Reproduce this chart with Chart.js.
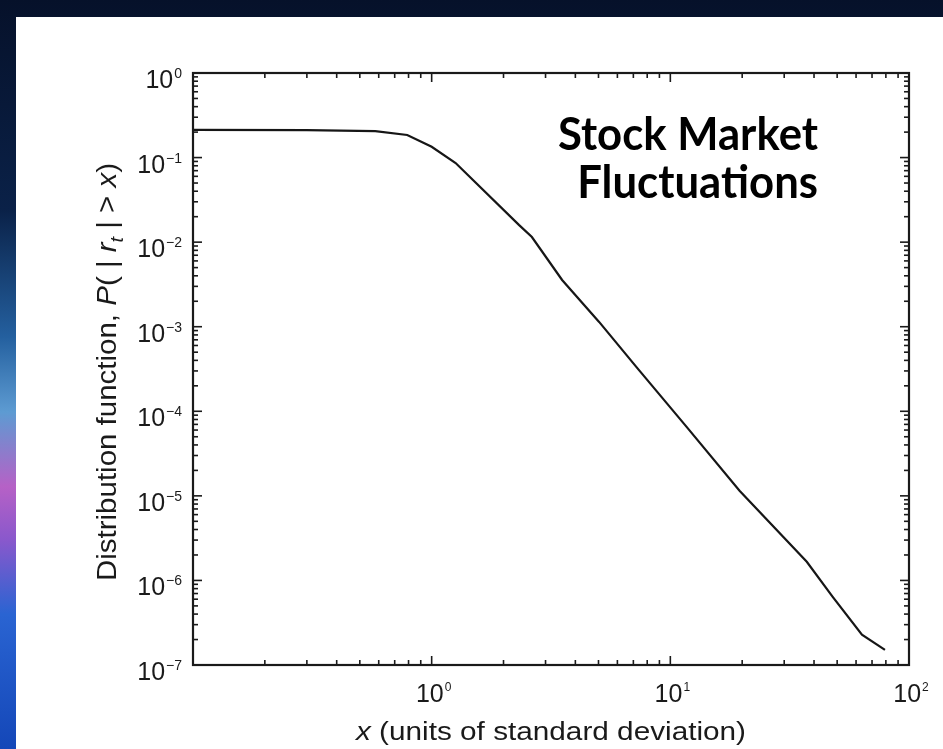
<!DOCTYPE html>
<html>
<head>
<meta charset="utf-8">
<script src="https://cdn.jsdelivr.net/npm/chart.js@4.4.1/dist/chart.umd.min.js"></script>
<style>
  html, body { margin: 0; padding: 0; width: 943px; height: 749px; overflow: hidden; }
  #backdrop {
    position: absolute; left: 0; top: 0; width: 943px; height: 749px;
    background: linear-gradient(to bottom, #06112a 0%, #0a2148 28%, #24609f 45%, #5d9bd2 55%, #b661c6 65%, #8a58cc 72%, #2a64d2 82%, #1447b8 100%);
  }
  #panel { position: absolute; left: 16px; top: 17px; right: 0; bottom: 0; background: #ffffff; }
  canvas { position: absolute; left: 0; top: 0; }
</style>
</head>
<body>
<div id="backdrop"></div>
<div id="panel"></div>
<canvas id="chart" width="943" height="749"></canvas>
<script>
// Cumulative distribution of normalized absolute returns, P(|r_t| > x)
const devX = [0.1, 0.3, 0.58, 0.79, 1.0, 1.26, 2.32, 2.63, 3.52, 5.03, 7.2, 11.7, 19.5, 37.3, 47.9, 63.5, 79.3];
const cumProb = [0.213, 0.211, 0.205, 0.185, 0.134, 0.0863, 0.016, 0.0115, 0.00357, 0.00114, 0.000335,
                 0.0000654, 0.0000115, 0.00000166, 0.00000064, 0.000000228, 0.000000151];

// Axis decades (powers of ten) and the minor multipliers inside each decade
const xDecadeExps = [-1, 0, 1, 2];
const yDecadeExps = [0, -1, -2, -3, -4, -5, -6, -7];
const xLabelExps = [0, 1, 2];
const yLabelExps = [0, -1, -2, -3, -4, -5, -6, -7];
const minorSteps = [2, 3, 4, 5, 6, 7, 8, 9];

// Text
const xTitleParts = [{ t: 'x', it: true }, { t: ' (units of standard deviation)' }];
const yTitleParts = [
  { t: 'Distribution function, ' }, { t: 'P', it: true }, { t: '( | ' },
  { t: 'r', it: true }, { t: 't', it: true, sub: true }, { t: ' | > ' },
  { t: 'x', it: true }, { t: ')' }
];
const noteLines = ['Stock Market', 'Fluctuations'];

const SANS = '"Liberation Sans", Arial, Helvetica, sans-serif';
const INK = '#1a1a1a';

function sansFont(size, italic) {
  return (italic ? 'italic ' : '') + size + 'px ' + SANS;
}

// "10" with a raised exponent
function drawPower(ctx, exp, anchorX, baseline, align, size, supSize, supRise) {
  const sup = exp < 0 ? '\u2212' + Math.abs(exp) : String(exp);
  ctx.font = sansFont(size);
  const wBase = ctx.measureText('10').width;
  ctx.font = sansFont(supSize);
  const wSup = ctx.measureText(sup).width;
  const total = wBase + 1 + wSup;
  const x0 = align === 'right' ? anchorX - total : anchorX - total / 2;
  ctx.textAlign = 'left';
  ctx.textBaseline = 'alphabetic';
  ctx.font = sansFont(size);
  ctx.fillText('10', x0, baseline);
  ctx.font = sansFont(supSize);
  ctx.fillText(sup, x0 + wBase + 1, baseline - supRise);
}

// Mixed regular / italic / subscript run
function measureParts(ctx, parts, size) {
  let w = 0;
  parts.forEach(p => {
    ctx.font = sansFont(p.sub ? Math.round(size * 0.65) : size, p.it);
    w += ctx.measureText(p.t).width;
  });
  return w;
}
function drawParts(ctx, parts, size, startX, baseline) {
  let x = startX;
  ctx.textAlign = 'left';
  ctx.textBaseline = 'alphabetic';
  parts.forEach(p => {
    const s = p.sub ? Math.round(size * 0.65) : size;
    ctx.font = sansFont(s, p.it);
    ctx.fillText(p.t, x, baseline + (p.sub ? size * 0.25 : 0));
    x += ctx.measureText(p.t).width;
  });
}

const framePlugin = {
  id: 'logFrame',
  afterDraw(chart) {
    const ctx = chart.ctx;
    const xs = chart.scales.x, ys = chart.scales.y;
    const a = chart.chartArea;
    ctx.save();
    ctx.strokeStyle = INK;
    ctx.fillStyle = INK;

    // inward ticks on all four sides
    ctx.lineWidth = 1.6;
    const tick = (x1, y1, x2, y2) => { ctx.beginPath(); ctx.moveTo(x1, y1); ctx.lineTo(x2, y2); ctx.stroke(); };
    xDecadeExps.forEach(e => {
      const major = Math.pow(10, e);
      const px = xs.getPixelForValue(major);
      if (px > a.left + 1 && px < a.right - 1) {
        tick(px, a.bottom, px, a.bottom - 9);
        tick(px, a.top, px, a.top + 9);
      }
      minorSteps.forEach(k => {
        const v = k * major;
        if (v <= xs.min || v >= xs.max) return;
        const mx = xs.getPixelForValue(v);
        tick(mx, a.bottom, mx, a.bottom - 5);
        tick(mx, a.top, mx, a.top + 5);
      });
    });
    yDecadeExps.forEach(e => {
      const major = Math.pow(10, e);
      const py = ys.getPixelForValue(major);
      if (py > a.top + 1 && py < a.bottom - 1) {
        tick(a.left, py, a.left + 9, py);
        tick(a.right, py, a.right - 9, py);
      }
      minorSteps.forEach(k => {
        const v = k * major;
        if (v <= ys.min || v >= ys.max) return;
        const my = ys.getPixelForValue(v);
        tick(a.left, my, a.left + 5, my);
        tick(a.right, my, a.right - 5, my);
      });
    });

    // frame
    ctx.lineWidth = 2.2;
    ctx.strokeRect(a.left, a.top, a.right - a.left, a.bottom - a.top);

    // tick labels
    yLabelExps.forEach(e => {
      const py = ys.getPixelForValue(Math.pow(10, e));
      drawPower(ctx, e, a.left - 11, py + 15, 'right', 25, 14, 10);
    });
    xLabelExps.forEach(e => {
      const px = xs.getPixelForValue(Math.pow(10, e));
      drawPower(ctx, e, px + 2, a.bottom + 37, 'center', 25, 12, 11);
    });

    // x axis title
    const xSize = 26;
    const xW = measureParts(ctx, xTitleParts, xSize);
    ctx.save();
    ctx.translate((a.left + a.right) / 2, a.bottom + 75);
    ctx.scale(390 / xW, 1);
    drawParts(ctx, xTitleParts, xSize, -xW / 2, 0);
    ctx.restore();

    // y axis title (rotated, condensed)
    const ySize = 27;
    const yW = measureParts(ctx, yTitleParts, ySize);
    ctx.save();
    ctx.translate(a.left - 77, (a.top + a.bottom) / 2 + 3);
    ctx.rotate(-Math.PI / 2);
    ctx.scale(418 / yW, 1);
    drawParts(ctx, yTitleParts, ySize, -yW / 2, 0);
    ctx.restore();

    // annotation, narrow bold face
    ctx.fillStyle = '#000000';
    ctx.textBaseline = 'alphabetic';
    ctx.textAlign = 'right';
    const noteSize = 45;
    ctx.font = 'bold ' + noteSize + 'px Lato, "Open Sans", sans-serif';
    const squeeze = 260 / ctx.measureText(noteLines[0]).width;
    ctx.save();
    ctx.translate(a.right - 91, a.top + 77);
    ctx.scale(squeeze, 1);
    ctx.fillText(noteLines[0], 0, 0);
    ctx.fillText(noteLines[1], 0, 48);
    ctx.restore();

    ctx.restore();
  }
};

new Chart(document.getElementById('chart').getContext('2d'), {
  type: 'line',
  data: {
    datasets: [{
      data: devX.map((x, i) => ({ x: x, y: cumProb[i] })),
      borderColor: '#161616',
      borderWidth: 2.2,
      pointRadius: 0,
      tension: 0,
      fill: false
    }]
  },
  options: {
    responsive: false,
    animation: false,
    devicePixelRatio: 1,
    layout: { padding: { left: 193, top: 73, right: 34, bottom: 84 } },
    plugins: { legend: { display: false }, tooltip: { enabled: false } },
    scales: {
      x: { type: 'logarithmic', min: 0.1, max: 100, display: false },
      y: { type: 'logarithmic', min: 1e-7, max: 1, display: false }
    }
  },
  plugins: [framePlugin]
});
</script>
</body>
</html>
